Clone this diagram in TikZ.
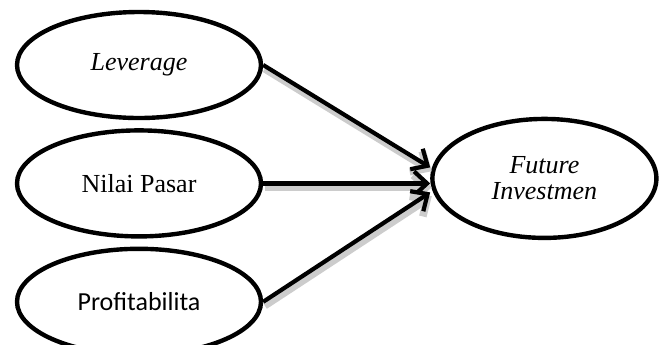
\documentclass[tikz,border=0pt]{standalone}
\usepackage{fontspec}
\setmainfont{Liberation Serif}
\newfontfamily\timesfont{Liberation Serif}
\newfontfamily\calibrifont{Carlito}
\usetikzlibrary{arrows.meta,positioning}
\usetikzlibrary{shapes.geometric}
\tikzset{
	%Define standard arrow tip
	>={Straight Barb[length=6.5pt,width=12pt]},
	%Define style for variables
	varbox/.style={
		ellipse,
		draw=black, line width=2.2pt,
		minimum width=122pt,
		minimum height=53pt,
		text centered,
		font=\timesfont\fontsize{13}{13}\selectfont},
	% Define arrow style
	pil/.style={
		->,
		line width=2.1pt,
		preaction={draw=black!20, line width=3.8pt,
			transform canvas={xshift=0.8pt,yshift=-1.9pt}}}
}
\begin{document}
\begin{tikzpicture}[node distance=4pt, auto,]
	\useasboundingbox (0,0) rectangle (331.5pt,-172pt);

	\node[varbox] (lev) at (69.5pt,-32.5pt) {\textit{Leverage}};
	\node[varbox, below = of lev] (nilai) {Nilai Pasar};
	\node[varbox, below = of nilai, font=\calibrifont\fontsize{13}{13}\selectfont] (profit) {Profitabilita};

	\node[varbox, minimum width=112pt, minimum height=59.5pt, align=center,
		right = 83.5pt of nilai, yshift=2.5pt] (fut) {\textit{Future}\\ \textit{Investmen}};

	\path
	(lev.east) edge [pil] ([yshift=5.5pt]fut.west)
	(nilai.east) edge [pil] ([yshift=-2.5pt]fut.west)
	(profit.east) edge [pil] ([yshift=-7pt]fut.west)
	;

\end{tikzpicture}
\end{document}
